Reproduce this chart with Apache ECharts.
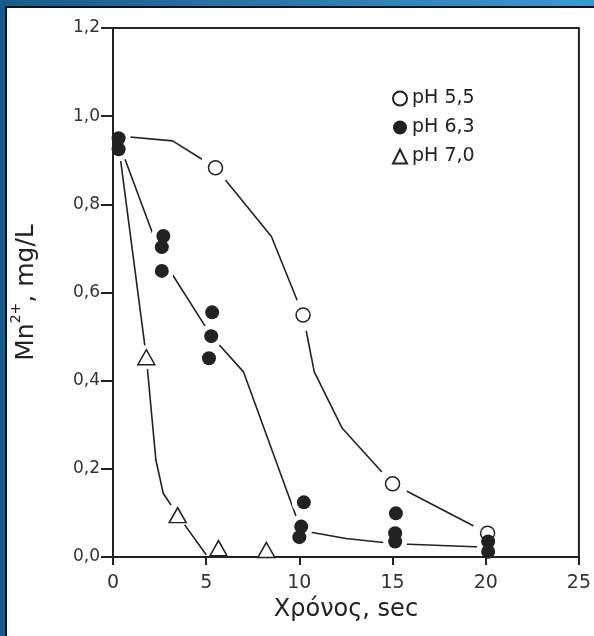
<!DOCTYPE html>
<html>
<head>
<meta charset="utf-8">
<script src="https://cdn.jsdelivr.net/npm/echarts@6/dist/echarts.min.js"></script>
<style>
  html, body { margin: 0; padding: 0; background: #fff; }
  #main { width: 594px; height: 636px; }
</style>
</head>
<body>
<div id="main"></div>
<script>
// measured points (time in sec, Mn2+ in mg/L)
var ph55Time = [5.5, 10.2, 15.0, 20.1];
var ph55Mn = [0.883, 0.549, 0.166, 0.054];

var ph63Time = [0.3, 0.3, 2.7, 2.62, 2.62, 5.32, 5.27, 5.15, 10.24, 10.1, 10.0, 15.18, 15.14, 15.14, 20.13, 20.13];
var ph63Mn = [0.95, 0.925, 0.728, 0.703, 0.649, 0.555, 0.501, 0.451, 0.124, 0.069, 0.045, 0.099, 0.054, 0.035, 0.035, 0.012];

var ph70Time = [1.79, 3.47, 5.66, 8.23];
var ph70Mn = [0.453, 0.095, 0.02, 0.016];

// hand drawn curves through the points
var curve55Time = [0.3, 3.2, 5.5, 8.5, 10.2, 10.8, 12.3, 15.0, 20.1];
var curve55Mn = [0.955, 0.944, 0.883, 0.727, 0.549, 0.42, 0.292, 0.166, 0.054];

var curve63Time = [0.4, 2.6, 5.3, 7.0, 10.1, 12.5, 15.15, 20.1];
var curve63Mn = [0.93, 0.68, 0.5, 0.42, 0.06, 0.042, 0.03, 0.022];

var curve70Time = [0.3, 1.79, 2.3, 2.7, 3.47, 5.0];
var curve70Mn = [0.935, 0.453, 0.22, 0.144, 0.095, 0.005];

var legendNames = ['pH 5,5', 'pH 6,3', 'pH 7,0'];

function pairs(xs, ys) {
  return xs.map(function (x, i) { return [x, ys[i]]; });
}

var ink = '#222';
var font = 'DejaVu Sans';

var myChart = echarts.init(document.getElementById('main'));

function curve(xs, ys) {
  return {
    type: 'line', data: pairs(xs, ys), symbol: 'none', z: 2,
    lineStyle: { color: ink, width: 1.6 }, silent: true
  };
}
// white discs under the markers, so the curves stop short of them
function halo(xs, ys, size) {
  return {
    type: 'scatter', data: pairs(xs, ys), symbol: 'circle', symbolSize: size, z: 3,
    itemStyle: { color: '#fff', borderWidth: 0, opacity: 1 }, silent: true
  };
}

var option = {
  animation: false,
  backgroundColor: '#fff',
  grid: { left: 113, right: 13, top: 28, bottom: 79, show: true, borderColor: ink, borderWidth: 2, backgroundColor: 'transparent' },
  legend: {
    data: legendNames,
    orient: 'vertical',
    left: 387,
    top: 84,
    itemWidth: 14,
    itemHeight: 14,
    itemGap: 10,
    textStyle: { fontSize: 19, color: ink, fontFamily: font }
  },
  xAxis: {
    type: 'value', min: 0, max: 25, interval: 5, z: 4,
    name: 'Χρόνος, sec', nameLocation: 'middle', nameGap: 41,
    nameTextStyle: { fontSize: 24, color: ink, fontFamily: font },
    axisLine: { lineStyle: { color: ink, width: 2 } },
    axisTick: { inside: false, length: 8, lineStyle: { color: ink, width: 2 } },
    axisLabel: { fontSize: 19, color: '#333', margin: 17, fontFamily: font },
    splitLine: { show: false }
  },
  yAxis: {
    type: 'value', min: 0, max: 1.2, interval: 0.2, z: 4,
    name: '{a|Mn}{s|2+}{a|, mg/L}', nameLocation: 'middle', nameGap: 74, nameRotate: 90,
    nameTextStyle: {
      color: ink, fontFamily: font,
      rich: {
        a: { fontSize: 25, lineHeight: 30, color: ink, fontFamily: font, verticalAlign: 'bottom' },
        s: { fontSize: 14, lineHeight: 14, color: ink, fontFamily: font, verticalAlign: 'top' }
      }
    },
    axisLine: { lineStyle: { color: ink, width: 2 } },
    axisTick: { inside: false, length: 12, lineStyle: { color: ink, width: 2 } },
    axisLabel: {
      fontSize: 17, color: '#333', margin: 13, fontFamily: font,
      formatter: function (v) { return v.toFixed(1).replace('.', ','); }
    },
    splitLine: { show: false }
  },
  graphic: [
    { type: 'rect', shape: { x: 0, y: 0, width: 594, height: 6 }, z: 100,
      style: { fill: new echarts.graphic.LinearGradient(0, 0, 1, 0, [
        { offset: 0, color: '#1a5a86' }, { offset: 1, color: '#3f98d2' }]) } },
    { type: 'rect', shape: { x: 0, y: 0, width: 5, height: 636 }, z: 100, style: { fill: '#1a5a86' } },
    { type: 'rect', shape: { x: 5, y: 6, width: 2, height: 630 }, z: 100, style: { fill: '#111' } },
    { type: 'rect', shape: { x: 5, y: 6, width: 589, height: 2 }, z: 100, style: { fill: '#111' } }
  ],
  series: [
    curve(curve55Time, curve55Mn),
    curve(curve63Time, curve63Mn),
    curve(curve70Time, curve70Mn),
    halo(ph55Time, ph55Mn, 32),
    halo(ph63Time, ph63Mn, 24),
    halo(ph70Time, ph70Mn, 24),
    {
      name: legendNames[0], type: 'scatter', data: pairs(ph55Time, ph55Mn),
      symbol: 'circle', symbolSize: 14, z: 5,
      itemStyle: { color: '#fff', borderColor: ink, borderWidth: 1.5, opacity: 1 }
    },
    {
      name: legendNames[1], type: 'scatter', data: pairs(ph63Time, ph63Mn),
      symbol: 'circle', symbolSize: 14, z: 5,
      itemStyle: { color: ink, borderColor: ink, borderWidth: 0, opacity: 1 }
    },
    {
      name: legendNames[2], type: 'scatter', data: pairs(ph70Time, ph70Mn),
      symbol: 'triangle', symbolSize: [17, 15], z: 5,
      itemStyle: { color: '#fff', borderColor: ink, borderWidth: 1.5, opacity: 1 }
    }
  ]
};

myChart.setOption(option);
</script>
</body>
</html>
